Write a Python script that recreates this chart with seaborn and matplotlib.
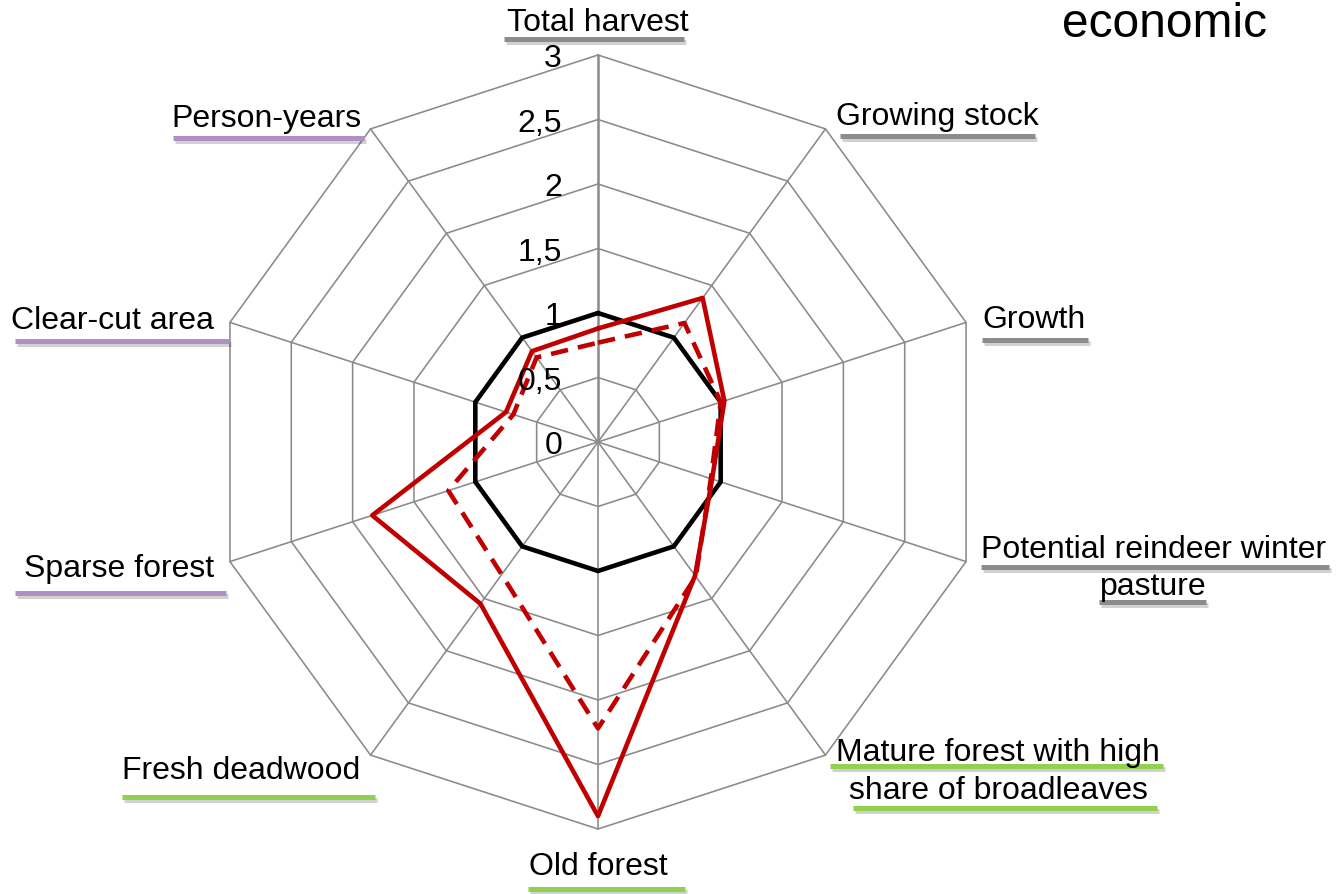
import numpy as np
import pandas as pd
import seaborn as sns
import matplotlib
matplotlib.use('Agg')
import matplotlib.pyplot as plt
import matplotlib.patheffects as pe
from matplotlib.lines import Line2D
from matplotlib.transforms import offset_copy

# categories clockwise from the top
categories = ['Total harvest', 'Growing stock', 'Growth',
              'Potential reindeer winter pasture',
              'Mature forest with high share of broadleaves',
              'Old forest', 'Fresh deadwood', 'Sparse forest',
              'Clear-cut area', 'Person-years']
reference = [1, 1, 1, 1, 1, 1, 1, 1, 1, 1]
scenario_solid = [0.88, 1.38, 1.03, 0.93, 1.28, 2.9, 1.55, 1.84, 0.75, 0.87]
scenario_dashed = [0.77, 1.14, 1.0, 0.92, 1.29, 2.22, 1.27, 1.22, 0.69, 0.81]
levels = [0, 0.5, 1, 1.5, 2, 2.5, 3]
level_labels = ['0', '0,5', '1', '1,5', '2', '2,5', '3']

W, H = 1336, 895
GRID = '#8a8a8a'
RED = '#c00000'
GRAY_U = '#8c8c8c'
PURPLE_U = '#b08fc7'
GREEN_U = '#92d050'
FS = 23

sns.set_style('white')
plt.rcParams['font.family'] = ['Liberation Sans', 'DejaVu Sans']

fig = plt.figure(figsize=(W / 100, H / 100), dpi=100)
cx, cy, rad = 598, 443, 387
ax = fig.add_axes([(cx - rad) / W, 1 - (cy + rad) / H, 2 * rad / W, 2 * rad / H],
                  projection='polar')
ax.set_theta_zero_location('N')
ax.set_theta_direction(-1)
ax.axis('off')

n = len(categories)
theta = np.linspace(0, 2 * np.pi, n, endpoint=False)
theta_closed = np.append(theta, 2 * np.pi)

# polygon grid
for lvl in levels[1:]:
    ax.plot(theta_closed, [lvl] * (n + 1), color=GRID, lw=1.15, clip_on=False, zorder=1)
for i, t in enumerate(theta):
    ax.plot([t, t], [0, 3], color=GRID, lw=1.8 if i == 0 else 1.15,
            clip_on=False, zorder=1)


def closed(vals):
    return pd.DataFrame({'theta': theta_closed, 'value': list(vals) + [vals[0]]})


sns.lineplot(data=closed(reference), x='theta', y='value', sort=False, estimator=None,
             color='black', lw=3.3, ax=ax, legend=False, solid_joinstyle='miter', zorder=3)
sns.lineplot(data=closed(scenario_dashed), x='theta', y='value', sort=False, estimator=None,
             color=RED, lw=3.3, ax=ax, legend=False, linestyle=(0, (3.8, 2.2)), zorder=4)
sns.lineplot(data=closed(scenario_solid), x='theta', y='value', sort=False, estimator=None,
             color=RED, lw=3.3, ax=ax, legend=False, solid_joinstyle='round', zorder=5)
for line in ax.get_lines():
    line.set_clip_on(False)
ax.set_ylim(0, 3)
ax.set_xlabel('')
ax.set_ylabel('')

# radial tick labels
tick_tf = offset_copy(ax.transData, fig=fig, x=-36, y=-3, units='dots')
for lvl, lab in zip(levels, level_labels):
    ax.text(0, lvl, lab, transform=tick_tf, ha='right', va='center',
            fontsize=FS, color='black', zorder=6)


def px(x, y):
    return x / W, 1 - y / H


# category labels: text, center x, baseline y (pixels)
label_text = [('Total harvest', 598, 31), ('Growing stock', 937, 125), ('Growth', 1034, 328),
              ('Potential reindeer winter', 1154, 558), ('pasture', 1153, 595),
              ('Mature forest with high', 998, 761), ('share of broadleaves', 998, 799),
              ('Old forest', 598, 875), ('Fresh deadwood', 241, 779),
              ('Sparse forest', 119, 577), ('Clear-cut area', 112, 329),
              ('Person-years', 266, 127)]
for txt, x, y in label_text:
    fig.text(*px(x, y), txt, ha='center', va='baseline', fontsize=FS, color='black')

# underline bars: x0, x1, y, colour
underlines = [(504, 684, 40, GRAY_U), (840, 1035, 137, GRAY_U), (982, 1088, 341, GRAY_U),
              (981, 1329, 568, GRAY_U), (1099, 1206, 603, GRAY_U),
              (830, 1163, 767, GREEN_U), (853, 1157, 809, GREEN_U),
              (528, 685, 890, GREEN_U), (122, 375, 798, GREEN_U),
              (15, 226, 594, PURPLE_U), (15, 229, 342, PURPLE_U), (173, 364, 139, PURPLE_U)]
for x0, x1, y, c in underlines:
    (a0, b0), (a1, b1) = px(x0, y), px(x1, y)
    ln = Line2D([a0, a1], [b0, b1], transform=fig.transFigure, color=c, lw=3.6,
                solid_capstyle='butt',
                path_effects=[pe.SimpleLineShadow(offset=(1.5, -2.5), shadow_color='black',
                                                  alpha=0.18), pe.Normal()])
    fig.add_artist(ln)

fig.text(*px(1165, 37), 'economic', ha='center', va='baseline', fontsize=34.5, color='black')

fig.savefig('out.png', dpi=100, facecolor='white')
